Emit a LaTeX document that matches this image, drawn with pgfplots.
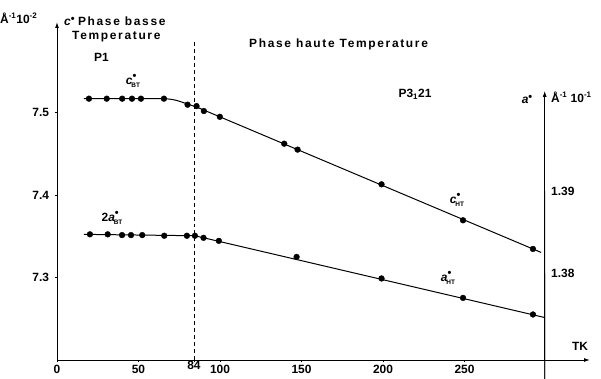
\documentclass[border=0pt]{standalone}
\usepackage{fontspec}
\setmainfont{Liberation Sans}
\newfontfamily\spaced[LetterSpace=14]{Liberation Sans}
\usepackage{pgfplots}
\pgfplotsset{compat=1.18}
\usetikzlibrary{arrows.meta}
\newcommand{\bul}{\fontsize{11}{11}\selectfont\textbullet}
\newcommand{\sym}[2]{\textit{#1}\raisebox{4.5pt}{\bul}\hspace{-5pt}\raisebox{-3.5pt}{\fontsize{6.5}{7}\selectfont\bfseries #2}}
\begin{document}
\begin{tikzpicture}
\path[use as bounding box] (0,0) rectangle (601bp,379bp);
\begin{axis}[
  at={(57bp,19bp)}, anchor=south west, scale only axis,
  width=533bp, height=338bp,
  xmin=0, xmax=327, ymin=7.2, ymax=7.61,
  axis x line=bottom, axis y line=left,
  axis line style={line width=1pt, -{Latex[length=6pt,width=4pt]}},
  xtick={0,50,100,150,200,250},
  xticklabels={0,50,100,150,200,250},
  ytick={7.3,7.4,7.5},
  yticklabels={7.3,7.4,7.5},
  tick align=outside, major tick length=2.5pt,
  tick style={line width=0.8pt, black},
  x tick label style={font=\fontsize{12}{13}\selectfont\bfseries, yshift=-1.5pt, inner sep=1pt},
  y tick label style={font=\fontsize{12}{14}\selectfont\bfseries, xshift=-2pt},
  extra x ticks={84}, extra x tick labels={84},
  extra x tick style={tick label style={font=\fontsize{7}{8}\selectfont\bfseries, yshift=4pt}},
  clip=false,
]
\addplot[only marks, mark=*, mark size=2.9pt, black] coordinates {
 (19.6,7.517) (30.5,7.517) (40,7.517) (46,7.517) (51.5,7.517) (65.6,7.517)
 (80.1,7.5097) (85.6,7.508) (90.1,7.502) (99.9,7.495) (139.4,7.4624)
 (147.6,7.4552) (199.1,7.4131) (249.1,7.3695) (292,7.3347)};
\addplot[smooth, line width=1pt, black] coordinates {
 (16.5,7.517) (62,7.517) (72,7.5155) (80,7.5105) (86,7.5066)};
\addplot[line width=1pt, black] coordinates {(86,7.5066) (297,7.3305)};
\draw[dash pattern=on 4pt off 3pt, line width=0.8pt] (axis cs:84,7.2) -- (axis cs:84,7.588);
\end{axis}
\begin{axis}[
  at={(57bp,19bp)}, anchor=south west, scale only axis,
  width=533bp, height=338bp,
  xmin=0, xmax=327, ymin=1.36948, ymax=1.41048,
  axis lines=none, clip=false,
]
\addplot[only marks, mark=*, mark size=2.9pt, black] coordinates {
 (20.2,1.38474) (31.1,1.38474) (39.9,1.38465) (45.4,1.38465) (52.3,1.38465)
 (65.8,1.38457) (79.7,1.38457) (84.6,1.38457) (89.9,1.38432) (99.3,1.38395)
 (147,1.382) (199.1,1.37939) (249.1,1.37703) (292,1.37502)};
\addplot[line width=1pt, black] coordinates {(16.5,1.38474) (84.6,1.38457) (299.2,1.37465)};
\draw[line width=1pt, -{Latex[length=6pt,width=4pt]}] (axis cs:299.2,1.36948) -- (axis cs:299.2,1.40215);
\draw[line width=0.8pt] (axis cs:299.2,1.38) -- ++(2.5pt,0);
\draw[line width=0.8pt] (axis cs:299.2,1.39) -- ++(2.5pt,0);
\end{axis}
\begin{scope}[x=1bp, y=-1bp, yshift=379bp, font=\fontsize{12}{14}\selectfont\bfseries]
\node[anchor=west, inner sep=0] at (0,18) {Å$^{\mbox{\fontsize{8}{8}\selectfont -1}}$10$^{\mbox{\fontsize{8}{8}\selectfont -2}}$};
\node[anchor=west, inner sep=0] at (64,21) {\textit{c}\raisebox{3pt}{\bul} {\spaced Phase basse}};
\node[anchor=west, inner sep=0] at (72,37) {\spaced Temperature};
\node[anchor=west, inner sep=0] at (94,57) {P1};
\node at (133,81) {\sym{c}{BT}};
\node[anchor=west, inner sep=0] at (249,44) {\spaced Phase haute Temperature};
\node at (415,94) {P3$_{\mbox{\fontsize{8}{8}\selectfont 1}}$21};
\node at (527,99) {\textit{a}\raisebox{3pt}{\bul}};
\node[anchor=west, inner sep=0] at (551,97) {Å$^{\mbox{\fontsize{8}{8}\selectfont -1}}$ 10$^{\mbox{\fontsize{8}{8}\selectfont -1}}$};
\node[anchor=west, inner sep=0] at (551,191) {1.39};
\node[anchor=west, inner sep=0] at (551,273) {1.38};
\node at (457,200) {\sym{c}{HT}};
\node at (448,278) {\sym{a}{HT}};
\node at (112,218) {2\sym{a}{BT}};
\node at (580,346) {TK};
\end{scope}
\end{tikzpicture}
\end{document}
